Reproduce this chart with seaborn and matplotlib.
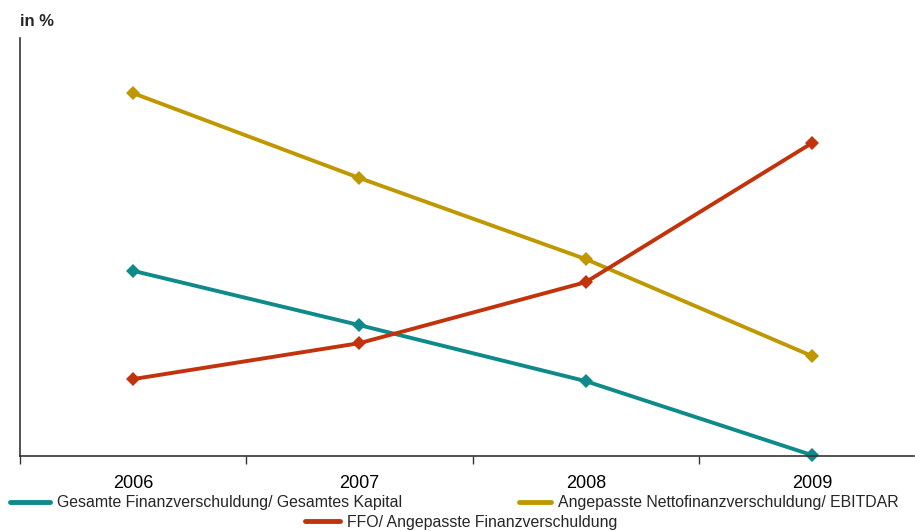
import matplotlib
matplotlib.use("Agg")
import matplotlib.pyplot as plt
import seaborn as sns
import pandas as pd
from matplotlib.lines import Line2D

years = ["2006", "2007", "2008", "2009"]
gesamt_kapital = [44.3, 31.3, 17.9, 0.2]
netto_ebitdar = [86.8, 66.5, 47.1, 23.9]
ffo_finanz = [18.4, 27.0, 41.6, 74.9]

series_names = [
    "Gesamte Finanzverschuldung/ Gesamtes Kapital",
    "Angepasste Nettofinanzverschuldung/ EBITDAR",
    "FFO/ Angepasste Finanzverschuldung",
]
colors = ["#0e8a8a", "#bf9800", "#c3330b"]

rows = []
for name, vals in zip(series_names, [gesamt_kapital, netto_ebitdar, ffo_finanz]):
    for i, v in enumerate(vals):
        rows.append({"pos": i, "Jahr": years[i], "Wert": v, "Reihe": name})
df = pd.DataFrame(rows)

sns.set_theme(style="white")
plt.rcParams["font.family"] = ["Liberation Sans", "DejaVu Sans"]

fig = plt.figure(figsize=(9.15, 5.31), dpi=100)
ax = fig.add_axes([20 / 915, 1 - 456 / 531, (914 - 20) / 915, (456 - 38) / 531])

sns.lineplot(
    data=df, x="pos", y="Wert", hue="Reihe", hue_order=series_names,
    palette=colors, marker="D", markersize=7.5, markeredgewidth=0,
    linewidth=2.8, ax=ax, legend=False, clip_on=False,
)

ax.set_xlim(-0.5, 3.45)
ax.set_ylim(0, 100)
ax.set_xticks(range(len(years)))
ax.set_xticklabels(years, fontsize=13)
ax.set_xticks([-0.5, 0.5, 1.5, 2.5], minor=True)
ax.tick_params(axis="x", which="major", length=0, pad=14, colors="black")
ax.tick_params(axis="x", which="minor", bottom=True, length=6, width=1, color="#333333")
ax.set_yticks([])
ax.set_xlabel("")
ax.set_ylabel("")
for side in ["top", "right"]:
    ax.spines[side].set_visible(False)
for side in ["left", "bottom"]:
    ax.spines[side].set_color("#333333")
    ax.spines[side].set_linewidth(1.2)

fig.text(20 / 915, 1 - 21 / 531, "in %", fontsize=12, fontweight="bold",
         va="center", ha="left")

# legend entries, one per series
positions = [(10 / 915, 1 - 503 / 531), (519 / 915, 1 - 503 / 531), (305 / 915, 1 - 522 / 531)]
handle_lengths = [2.5, 2.0, 2.2]
for name, col, (lx, ly), hl in zip(series_names, colors, positions, handle_lengths):
    h = Line2D([0], [0], color=col, linewidth=3.5)
    fig.legend([h], [name], loc="center left", bbox_to_anchor=(lx, ly),
               frameon=False, fontsize=11.4, handlelength=hl,
               handletextpad=0.45, borderpad=0, borderaxespad=0)

fig.savefig("out.png", dpi=100)
